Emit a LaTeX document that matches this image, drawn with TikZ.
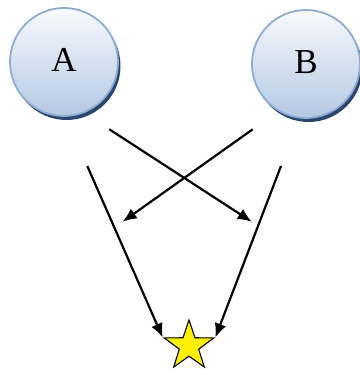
\documentclass[tikz,border=0pt]{standalone}
\usepackage{fontspec}
\setmainfont{Liberation Serif}
\usetikzlibrary{shapes.geometric,arrows.meta,shadows}
\definecolor{ringc}{HTML}{8EACD2}
\definecolor{topc}{HTML}{F8FAFD}
\definecolor{botc}{HTML}{B4C8E3}
\definecolor{shadc}{HTML}{2B466E}
\tikzset{
  ball/.style={circle, minimum size=108pt, inner sep=0pt, draw=ringc, line width=1.8pt,
    top color=topc, bottom color=botc,
    drop shadow={shadow xshift=2.5pt, shadow yshift=-4pt, fill=shadc, opacity=1},
    font=\fontsize{35}{40}\selectfont},
  arr/.style={line width=2.2pt, -{Latex[length=14pt,width=12pt]}},
  starbox/.style={star, star points=5, star point ratio=2.55, minimum size=52pt, inner sep=0pt,
    draw=black, line width=1.1pt, fill=yellow}
}
\begin{document}
\begin{tikzpicture}[x=1pt,y=-1pt]
\useasboundingbox (0,0) rectangle (359,369);
\node[ball] (A) at (64,62) {\raisebox{4pt}{A}};
\node[ball] (B) at (306,64) {\raisebox{4pt}{B}};
\node[starbox] (S) at (189,346) {};
\coordinate (a1) at (109.3,129.3);
\coordinate (a2) at (251.7,221.7);
\coordinate (b1) at (252.7,129.3);
\coordinate (b2) at (122.7,221.7);
\coordinate (c1) at (87.3,166);
\coordinate (d1) at (281,166);
\draw[arr] (a1) -- (a2);
\draw[arr] (b1) -- (b2);
\draw[arr] (c1) -- (S.outer point 2);
\draw[arr] (d1) -- (S.outer point 5);
\end{tikzpicture}
\end{document}
